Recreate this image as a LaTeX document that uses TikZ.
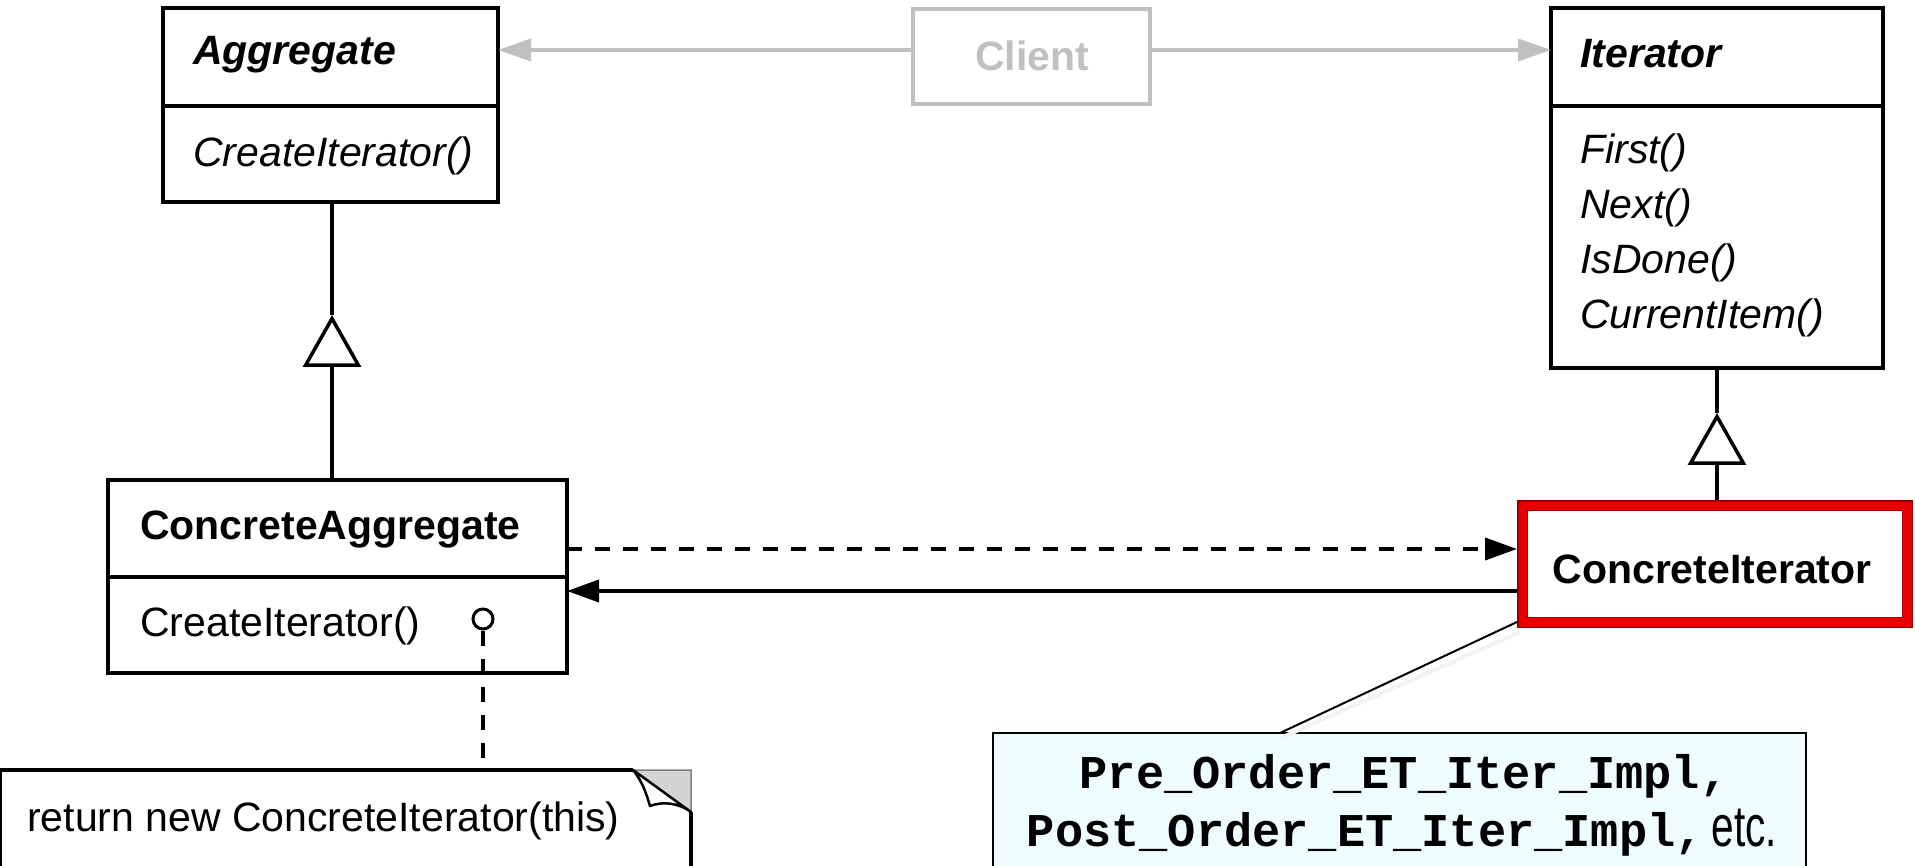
\documentclass[tikz,border=0pt]{standalone}
\usepackage{fontspec}
\setmainfont{Liberation Sans}
\newfontfamily\codefont{Liberation Mono}
\newfontfamily\narrowfont[FakeStretch=0.7]{Liberation Sans}
\usetikzlibrary{arrows.meta,calc}
\definecolor{clientgray}{RGB}{192,192,192}
\definecolor{notecyan}{RGB}{238,252,254}
\definecolor{boxred}{RGB}{232,0,0}
\definecolor{darkred}{RGB}{150,0,0}
\definecolor{foldgray}{RGB}{212,212,212}
\begin{document}
\begin{tikzpicture}[x=1pt,y=-1pt,
  cls/.style={draw=black, line width=4pt, inner sep=0pt, outer sep=0pt, fill=white},
  plain/.style={inner sep=0pt, outer sep=0pt},
  txt/.style={anchor=base west, inner sep=0pt},
  regf/.style={font=\fontsize{41}{49}\selectfont},
  itf/.style={font=\fontsize{41}{49}\selectfont\itshape},
  bf/.style={font=\fontsize{41}{49}\selectfont\bfseries},
  bif/.style={font=\fontsize{41}{49}\selectfont\bfseries\itshape},
  codef/.style={font=\fontsize{47}{56}\selectfont\codefont\bfseries},
  divider/.style={line width=4pt},
  conn/.style={line width=4pt},
  gconn/.style={line width=4pt, draw=clientgray, -{Triangle[length=33pt,width=22pt,fill=clientgray]}},
  filledhead/.style={-{Triangle[length=32pt,width=22pt]}},
  dashline/.style={line width=4pt, dash pattern=on 15pt off 13pt},
  inherit/.style={line width=4pt, -{Triangle[open,length=52pt,width=58pt,line width=3.5pt]}}
]
\useasboundingbox (0,0) rectangle (1915,866);
\clip (0,0) rectangle (1915,866);

% Aggregate
\node[cls, minimum width=335pt, minimum height=194pt] (agg) at (330.5,105) {};
\draw[divider] (agg.west |- 0,106) -- (agg.east |- 0,106);
\node[txt, bif] (aggname) at (193,65) {Aggregate};
\node[txt, itf] (aggop) at (193,167) {CreateIterator()};

% Client
\node[cls, draw=clientgray, minimum width=237pt, minimum height=95pt] (client) at (1031.5,56.5) {};
\node[anchor=base, inner sep=0pt, bf, text=clientgray] (clientname) at (1032,71) {Client};

% Iterator
\node[cls, minimum width=332pt, minimum height=360pt] (iter) at (1717,188) {};
\draw[divider] (iter.west |- 0,106) -- (iter.east |- 0,106);
\node[txt, bif] (itername) at (1580,68) {Iterator};
\node[txt, itf] (m1) at (1580,164) {First()};
\node[txt, itf] (m2) at (1580,219) {Next()};
\node[txt, itf] (m3) at (1580,274) {IsDone()};
\node[txt, itf] (m4) at (1580,329) {CurrentItem()};

% ConcreteAggregate
\node[cls, minimum width=459pt, minimum height=193pt] (cagg) at (337.5,576.5) {};
\draw[divider] (cagg.west |- 0,577) -- (cagg.east |- 0,577);
\node[txt, bf] (caggname) at (140,539) {ConcreteAggregate};
\node[txt, regf] (caggop) at (140,636) {CreateIterator()};
\node[circle, draw, line width=3pt, minimum size=20pt, inner sep=0pt] (hook) at (483,619) {};

% ConcreteIterator (red bevelled frame)
\node[plain, minimum width=396pt, minimum height=128pt] (citer) at (1715,564) {};
\draw[line width=11pt, boxred] ([shift={(5.5pt,5.5pt)}]citer.south west) rectangle ([shift={(-5.5pt,-5.5pt)}]citer.north east);
\draw[line width=1.5pt, darkred] ([shift={(0.75pt,0.75pt)}]citer.south west) rectangle ([shift={(-0.75pt,-0.75pt)}]citer.north east);
\draw[line width=1.5pt, darkred!80!boxred] ([shift={(10.5pt,10.5pt)}]citer.south west) rectangle ([shift={(-10.5pt,-10.5pt)}]citer.north east);
\node[anchor=base, inner sep=0pt, bf] (citername) at (1712,583) {ConcreteIterator};

% Note (bottom left)
\node[plain, minimum width=691pt, minimum height=140pt, anchor=north west] (note) at (0,770) {};
\fill[white] (note.south west) -- (note.north west) -- ([xshift=-58pt]note.north east) -- ([yshift=-42pt]note.north east) -- (note.south east) -- cycle;
\draw[line width=1.5pt, draw=gray, fill=foldgray] ([xshift=-58pt]note.north east) -- (note.north east) -- ([yshift=-42pt]note.north east) -- cycle;
\draw[conn] (note.south west) -- (note.north west) -- ([xshift=-58pt]note.north east);
\draw[conn] ([yshift=-42pt]note.north east) -- (note.south east);
\draw[line width=2.5pt, fill=white, line join=round] ([xshift=-58pt]note.north east) .. controls (643,782) and (647,796) .. (650,806) .. controls (663,801) and (679,803) .. ([yshift=-42pt]note.north east) -- cycle;
\node[txt, regf] (notetext) at (27,831) {return new ConcreteIterator(this)};

% Implementation note (cyan)
\node[plain, draw, line width=2.5pt, fill=notecyan, minimum width=813pt, minimum height=200pt, anchor=north west] (impl) at (993,733) {};
\node[anchor=base, inner sep=0pt, codef] (impl1) at (1404,788) {Pre\_Order\_ET\_Iter\_Impl,};
\node[anchor=base, inner sep=0pt, codef] (impl2) at (1402,846) {Post\_Order\_ET\_Iter\_Impl,\,{\narrowfont\fontsize{58}{60}\selectfont\mdseries etc.}};

% Connectors
\draw[gconn] ([yshift=6.5pt]client.west) -- ([yshift=6.5pt]client.west -| agg.east);
\draw[gconn] ([yshift=6.5pt]client.east) -- ([yshift=6.5pt]client.east -| iter.west);

\coordinate (t1) at (332,315);
\draw[inherit] (t1 |- cagg.north) -- (t1);
\draw[conn] (t1) -- (t1 |- agg.south);

\coordinate (t2) at (1717,413);
\draw[inherit] (t2 |- citer.north) -- (t2);
\draw[conn] (t2) -- (t2 |- iter.south);

\draw[dashline, filledhead] ([yshift=27.5pt]cagg.east) -- ([yshift=27.5pt]cagg.east -| citer.west);
\draw[conn, filledhead] ([yshift=-14.5pt]cagg.east -| citer.west) -- ([yshift=-14.5pt]cagg.east);

\draw[dashline] (hook.south) -- (hook.south |- note.north);

\coordinate (implpt) at ([xshift=287pt]impl.north west);
\draw[line width=4pt, black!5] ([shift={(3pt,-4pt)}]citer.south west) -- ([shift={(3pt,-4pt)}]implpt);
\draw[line width=2pt] ([yshift=6pt]citer.south west) -- (implpt);
\end{tikzpicture}
\end{document}
